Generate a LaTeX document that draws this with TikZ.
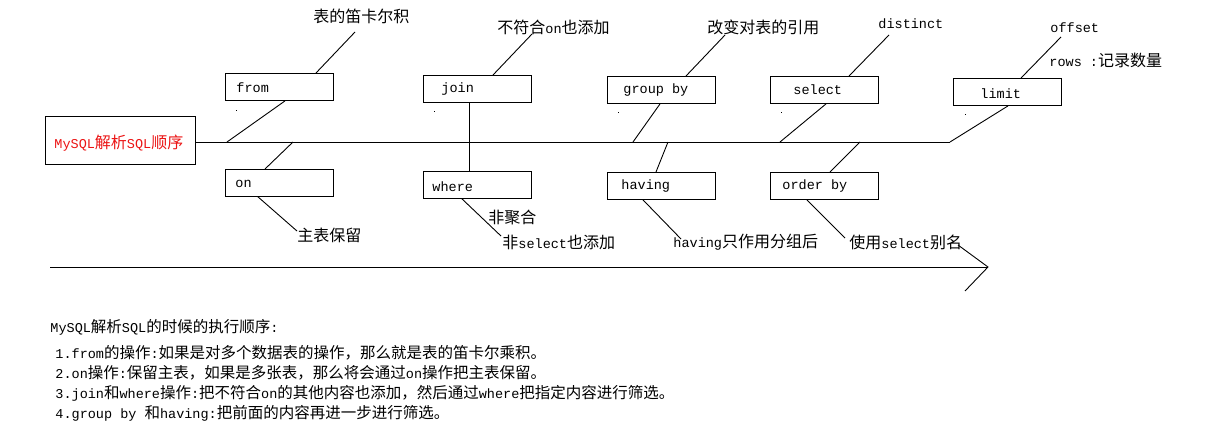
\documentclass[tikz,border=0pt]{standalone}
\usepackage{fontspec}
\setmainfont{Noto Sans CJK SC}
\newfontfamily\monof{Liberation Mono}
\newcommand\ml[1]{{\monof\fontsize{13.5}{16}\selectfont #1}}
\definecolor{titlered}{RGB}{235,20,20}
\begin{document}
\begin{tikzpicture}[x=1pt,y=-1pt,line width=0.9pt,
  box/.style={draw,minimum width=108pt,minimum height=27pt,inner sep=0pt,anchor=north west},
  btxt/.style={anchor=west,inner sep=0pt,font=\monof\fontsize{13.5}{16}\selectfont},
  lbl/.style={anchor=west,inner sep=0pt,font=\fontsize{16}{19}\selectfont},
  note/.style={anchor=west,inner sep=0pt,font=\fontsize{15.5}{19}\selectfont}]
\useasboundingbox (0,0) rectangle (1215,429);

% title
\node[draw,minimum width=150pt,minimum height=48pt,inner sep=0pt] (title) at (120,140) {};
\node[anchor=west,inner sep=0pt,text=titlered,font=\fontsize{16}{19}\selectfont] (titletxt) at (54,143) {\ml{MySQL}解析\ml{SQL}顺序};

% spine
\coordinate (spS) at (195,142);
\coordinate (spE) at (950,142);
\draw (spS) -- (spE);

% boxes
\node[box] (from) at (225,73) {};
\node[btxt] (fromt) at ([xshift=11pt,yshift=-1pt]from.west) {from};
\node[box] (on) at (225,169) {};
\node[btxt] (ont) at ([xshift=10pt,yshift=-1pt]on.west) {on};
\node[box] (join) at (423,75) {};
\node[btxt] (joint) at ([xshift=18pt]join.west) {join};
\node[box] (where) at (423,171) {};
\node[btxt] (wheret) at ([xshift=9pt,yshift=-2pt]where.west) {where};
\node[box] (group) at (607,76) {};
\node[btxt] (groupt) at ([xshift=16pt]group.west) {group by};
\node[box] (having) at (607,172) {};
\node[btxt] (havingt) at ([xshift=14pt]having.west) {having};
\node[box] (select) at (770,76) {};
\node[btxt] (selectt) at ([xshift=23pt]select.west) {select};
\node[box] (order) at (770,172) {};
\node[btxt] (ordert) at ([xshift=12pt]order.west) {order by};
\node[box] (limit) at (953,78) {};
\node[btxt] (limitt) at ([xshift=27pt,yshift=-2pt]limit.west) {limit};

% spine points
\coordinate (s1) at (227,142);
\coordinate (s2) at (293,142);
\coordinate (s3) at (633,142);
\coordinate (s4) at (668,142);
\coordinate (s5) at (780,142);
\coordinate (s6) at (860,142);

% branches to boxes
\draw (s1) -- ([xshift=60pt]from.south west);
\draw (s2) -- ([xshift=40pt]on.north west);
\draw ([xshift=46pt]join.south west) -- ([xshift=46pt]where.north west);
\draw (s3) -- ([xshift=53pt]group.south west);
\draw (s4) -- ([xshift=49pt]having.north west);
\draw (s5) -- ([xshift=56pt]select.south west);
\draw (s6) -- ([xshift=60pt]order.north west);
\draw (spE) -- ([xshift=55pt]limit.south west);

% labels
\node[lbl] (lfrom) at (313,16) {表的笛卡尔积};
\coordinate (cfrom) at (355,32);
\draw ([xshift=91pt]from.north west) -- (cfrom);

\node[lbl] (lon) at (297,235) {主表保留};
\coordinate (con) at (297,231);
\draw ([xshift=33pt]on.south west) -- (con);

\node[lbl] (ljoin) at (497,27) {不符合\ml{on}也添加};
\coordinate (cjoin) at (532,34);
\draw ([xshift=70pt]join.north west) -- (cjoin);

\node[lbl] (lwhere1) at (488,217) {非聚合};
\node[lbl] (lwhere2) at (502,242) {非\ml{select}也添加};
\coordinate (cwhere) at (501,236);
\draw ([xshift=39pt]where.south west) -- (cwhere);

\node[lbl] (lgroup) at (707,27) {改变对表的引用};
\coordinate (cgroup) at (725,35);
\draw ([xshift=79pt]group.north west) -- (cgroup);

\node[lbl] (lhaving) at (673,242) {\ml{having}只作用分组后};
\coordinate (chaving) at (681,239);
\draw ([xshift=36pt]having.south west) -- (chaving);

\node[btxt] (lselect) at (878,24) {distinct};
\coordinate (cselect) at (889,35);
\draw ([xshift=79pt]select.north west) -- (cselect);

\node[lbl] (lorder) at (849,242) {使用\ml{select}别名};
\coordinate (corder) at (845,238);
\draw ([xshift=37pt]order.south west) -- (corder);

\node[btxt] (llimit1) at (1050,28) {offset};
\node[lbl] (llimit2) at (1049,60) {\ml{rows :}记录数量};
\coordinate (climit) at (1061,37);
\draw ([xshift=68pt]limit.north west) -- (climit);

% stray dots
\foreach \p in {(236,110),(434,111),(618,112),(781,112),(965,114)}
  \fill \p rectangle ++(1.2,1.2);

% big arrow
\coordinate (aS) at (50,267);
\coordinate (aE) at (988,267);
\coordinate (aU) at (958,245);
\coordinate (aD) at (965,291);
\draw (aS) -- (aE);
\draw (aU) -- (aE) -- (aD);

% notes
\node[note] (n0) at (50,327) {\ml{MySQL}解析\ml{SQL}的时候的执行顺序\ml{:}};
\node[note] (n1) at (55,353) {\ml{1.from}的操作\ml{:}如果是对多个数据表的操作，那么就是表的笛卡尔乘积。};
\node[note] (n2) at (55,373) {\ml{2.on}操作\ml{:}保留主表，如果是多张表，那么将会通过\ml{on}操作把主表保留。};
\node[note] (n3) at (55,393) {\ml{3.join}和\ml{where}操作\ml{:}把不符合\ml{on}的其他内容也添加，然后通过\ml{where}把指定内容进行筛选。};
\node[note] (n4) at (55,413) {\ml{4.group by }和\ml{having:}把前面的内容再进一步进行筛选。};
\end{tikzpicture}
\end{document}
